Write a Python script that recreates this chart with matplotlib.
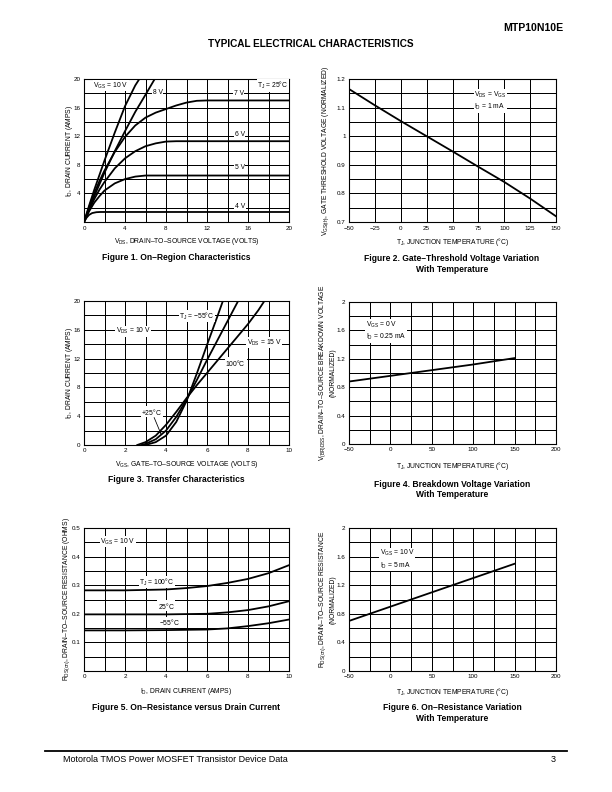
import matplotlib
matplotlib.use("Agg")
import matplotlib.pyplot as plt

plt.rcParams['font.family'] = ['Liberation Sans', 'DejaVu Sans']
plt.rcParams['mathtext.fontset'] = 'custom'
plt.rcParams['mathtext.rm'] = 'Liberation Sans'
plt.rcParams['mathtext.it'] = 'Liberation Sans'
plt.rcParams['mathtext.bf'] = 'Liberation Sans:bold'

# ---- Figure 1: on-region characteristics (VDS, ID) per VGS ----
f1_vgs_labels = ['10 V', '8 V', '7 V', '6 V', '5 V', '4 V']
f1_vds = [
    [0, 0.5, 1, 2, 3, 4, 5, 5.4],
    [0, 0.5, 1, 2, 3, 4, 5, 6, 6.9],
    [0, 0.5, 1, 1.5, 2, 3, 4, 5, 6, 7, 8, 9, 10, 11, 12, 20],
    [0, 0.5, 1, 1.5, 2, 3, 4, 5, 6, 7, 8, 9, 20],
    [0, 0.5, 1, 1.5, 2, 3, 4, 5, 6, 7, 20],
    [0, 0.25, 0.5, 0.8, 1.2, 1.6, 20],
]
f1_id = [
    [0, 2.3, 4.5, 8.6, 12.5, 16.2, 19.1, 20],
    [0, 1.8, 3.6, 6.9, 9.9, 12.7, 15.4, 17.8, 20],
    [0, 2.1, 4.0, 5.7, 7.2, 9.8, 11.9, 13.5, 14.6, 15.3, 15.8, 16.3, 16.7, 16.95, 17.0, 17.0],
    [0, 1.7, 3.2, 4.5, 5.6, 7.5, 8.9, 9.9, 10.6, 11.0, 11.25, 11.3, 11.3],
    [0, 1.5, 2.7, 3.6, 4.4, 5.4, 6.0, 6.35, 6.5, 6.5, 6.5],
    [0, 0.6, 1.0, 1.25, 1.37, 1.4, 1.4],
]

# ---- Figure 2: gate threshold voltage vs temperature ----
f2_temp = [-50, -25, 0, 25, 50, 75, 100, 125, 150]
f2_vth = [1.165, 1.108, 1.053, 1.0, 0.947, 0.893, 0.84, 0.782, 0.72]

# ---- Figure 3: transfer characteristics (VGS, ID) per TJ ----
f3_vgs_100 = [2.6, 3.0, 3.5, 4.0, 4.5, 5.0, 5.5, 6.0, 6.5, 7.0, 7.5, 8.0, 8.5, 8.8]
f3_id_100 = [0, 0.4, 1.3, 2.8, 4.6, 6.5, 8.3, 10.0, 11.7, 13.4, 15.1, 16.8, 18.7, 20]
f3_vgs_25 = [2.8, 3.0, 3.5, 4.0, 4.5, 5.0, 5.5, 6.0, 6.5, 7.0, 7.5]
f3_id_25 = [0, 0.15, 0.8, 2.0, 3.9, 6.3, 9.0, 11.8, 14.5, 17.2, 19.9]
f3_vgs_m55 = [3.0, 3.5, 4.0, 4.5, 5.0, 5.5, 6.0, 6.5, 6.8]
f3_id_m55 = [0, 0.4, 1.3, 3.2, 6.1, 9.9, 13.9, 17.8, 20.2]

# ---- Figure 4: breakdown voltage vs temperature ----
f4_temp = [-50, 0, 50, 100, 150]
f4_vbr = [0.88, 0.96, 1.04, 1.12, 1.21]

# ---- Figure 5: on-resistance vs drain current ----
f5_id = [0, 2, 4, 5, 6, 7, 8, 9, 10]
f5_r100 = [0.282, 0.282, 0.285, 0.29, 0.297, 0.308, 0.322, 0.342, 0.37]
f5_r25 = [0.198, 0.198, 0.198, 0.199, 0.2, 0.205, 0.213, 0.226, 0.244]
f5_rm55 = [0.142, 0.142, 0.143, 0.144, 0.145, 0.149, 0.157, 0.167, 0.18]

# ---- Figure 6: on-resistance vs temperature ----
f6_temp = [-50, -25, 0, 25, 50, 75, 100, 125, 150]
f6_rds = [0.70, 0.80, 0.90, 1.0, 1.1, 1.2, 1.3, 1.4, 1.5]

W, H = 612, 792
fig = plt.figure(figsize=(W / 72, H / 72), dpi=72)

GRID_LW = 1.0
CURVE_LW = 1.8
TICK_FS = 6.2
LABEL_FS = 6.8
NOTE_FS = 6.8
CAP_FS = 8.5
BOX = dict(facecolor='white', edgecolor='none', pad=0.6)


def make_axes(left, top, right, bottom):
    ax = fig.add_axes([left / W, 1 - bottom / H, (right - left) / W, (bottom - top) / H])
    for s in ax.spines.values():
        s.set_linewidth(1.1)
        s.set_color('black')
    ax.tick_params(length=0, pad=3.5, labelsize=TICK_FS)
    ax.grid(True, color='black', linewidth=GRID_LW)
    ax.set_axisbelow(True)
    return ax


def set_ticks(ax, xgrid, xlab, ygrid, ylab):
    ax.set_xticks(xgrid, labels=[xlab.get(v, '') for v in xgrid])
    ax.set_yticks(ygrid, labels=[ylab.get(v, '') for v in ygrid])
    ax.set_xlim(xgrid[0], xgrid[-1])
    ax.set_ylim(ygrid[0], ygrid[-1])


def note(ax, x, y, s, **kw):
    ax.text(x, y, s, fontsize=NOTE_FS, bbox=BOX, zorder=5, **kw)


# Figure 1
ax1 = make_axes(84, 79, 289, 222)
set_ticks(ax1, list(range(0, 21, 2)), {v: str(v) for v in range(0, 21, 4)},
          list(range(0, 21, 2)), {v: str(v) for v in range(4, 21, 4)})
for xs, ys in zip(f1_vds, f1_id):
    ax1.plot(xs, ys, color='black', lw=CURVE_LW, solid_capstyle='butt', zorder=3)
note(ax1, 0.9, 19.1, r'V$_{\mathregular{GS}}$ = 10 V', va='center')
note(ax1, 6.7, 18.1, '8 V', va='center')
note(ax1, 14.6, 18.0, '7 V', va='center')
note(ax1, 14.7, 12.2, '6 V', va='center')
note(ax1, 14.7, 7.6, '5 V', va='center')
note(ax1, 14.7, 2.1, '4 V', va='center')
note(ax1, 16.9, 19.1, r'T$_{\mathregular{J}}$ = 25$\degree$C', va='center')
ax1.set_xlabel(r'V$_{\mathregular{DS}}$, DRAIN–TO–SOURCE VOLTAGE (VOLTS)', fontsize=LABEL_FS)
ax1.set_ylabel(r'I$_{\mathregular{D}}$, DRAIN CURRENT (AMPS)', fontsize=LABEL_FS)
ax1.xaxis.set_label_coords(0.5, -0.1)
ax1.yaxis.set_label_coords(-0.044, 0.5)

# Figure 2
ax2 = make_axes(349, 79, 556, 222)
yg2 = [round(0.7 + 0.05 * i, 2) for i in range(11)]
set_ticks(ax2, list(range(-50, 151, 25)), {v: str(v).replace('-', '−') for v in range(-50, 151, 25)},
          yg2, {0.7: '0.7', 0.8: '0.8', 0.9: '0.9', 1.0: '1', 1.1: '1.1', 1.2: '1.2'})
ax2.plot(f2_temp, f2_vth, color='black', lw=CURVE_LW, zorder=3)
note(ax2, 71, 1.124, r'V$_{\mathregular{DS}}$ = V$_{\mathregular{GS}}$' + '\n' + r'I$_{\mathregular{D}}$ = 1 mA',
     va='center', linespacing=1.3)
ax2.set_xlabel(r'T$_{\mathregular{J}}$, JUNCTION TEMPERATURE ($\degree$C)', fontsize=LABEL_FS)
ax2.set_ylabel(r'V$_{\mathregular{GS(th)}}$, GATE THRESHOLD VOLTAGE (NORMALIZED)', fontsize=LABEL_FS)
ax2.xaxis.set_label_coords(0.5, -0.1)
ax2.yaxis.set_label_coords(-0.086, 0.5)

# Figure 3
ax3 = make_axes(84, 301, 289, 445)
set_ticks(ax3, list(range(0, 11)), {v: str(v) for v in range(0, 11, 2)},
          list(range(0, 21, 2)), {v: str(v) for v in range(0, 21, 4)})
for xs, ys in [(f3_vgs_100, f3_id_100), (f3_vgs_25, f3_id_25), (f3_vgs_m55, f3_id_m55)]:
    ax3.plot(xs, ys, color='black', lw=CURVE_LW, zorder=3)
note(ax3, 4.65, 17.9, r'T$_{\mathregular{J}}$ = −55$\degree$C', va='center')
note(ax3, 1.55, 15.8, r'V$_{\mathregular{DS}}$ = 10 V', va='center')
note(ax3, 7.95, 14.2, r'V$_{\mathregular{DS}}$ = 15 V', va='center')
note(ax3, 6.9, 11.4, r'100$\degree$C', va='center')
ax3.annotate(r'+25$\degree$C', xy=(3.76, 1.5), xytext=(2.8, 4.6), fontsize=NOTE_FS, va='center',
             bbox=BOX, zorder=5,
             arrowprops=dict(arrowstyle='-|>', color='black', lw=0.8, mutation_scale=5,
                             shrinkA=0, shrinkB=0))
ax3.set_xlabel(r'V$_{\mathregular{GS}}$, GATE–TO–SOURCE VOLTAGE (VOLTS)', fontsize=LABEL_FS)
ax3.set_ylabel(r'I$_{\mathregular{D}}$, DRAIN CURRENT (AMPS)', fontsize=LABEL_FS)
ax3.xaxis.set_label_coords(0.5, -0.1)
ax3.yaxis.set_label_coords(-0.044, 0.5)

# Figure 4
ax4 = make_axes(349, 302, 556, 444)
yg4 = [round(0.2 * i, 1) for i in range(11)]
set_ticks(ax4, list(range(-50, 201, 25)), {v: str(v).replace('-', '−') for v in range(-50, 201, 50)},
          yg4, {0.0: '0', 0.4: '0.4', 0.8: '0.8', 1.2: '1.2', 1.6: '1.6', 2.0: '2'})
ax4.plot(f4_temp, f4_vbr, color='black', lw=CURVE_LW, zorder=3)
note(ax4, -30, 1.59, r'V$_{\mathregular{GS}}$ = 0 V' + '\n' + r'I$_{\mathregular{D}}$ = 0.25 mA',
     va='center', linespacing=1.3)
ax4.set_xlabel(r'T$_{\mathregular{J}}$, JUNCTION TEMPERATURE ($\degree$C)', fontsize=LABEL_FS)
ax4.set_ylabel(r'V$_{\mathregular{(BR)DSS}}$, DRAIN–TO–SOURCE BREAKDOWN VOLTAGE' + '\n(NORMALIZED)',
               fontsize=LABEL_FS, linespacing=1.3)
ax4.xaxis.set_label_coords(0.5, -0.115)
ax4.yaxis.set_label_coords(-0.058, 0.5)

# Figure 5
ax5 = make_axes(84, 528, 289, 671)
yg5 = [round(0.05 * i, 2) for i in range(11)]
set_ticks(ax5, list(range(0, 11)), {v: str(v) for v in range(0, 11, 2)},
          yg5, {0.1: '0.1', 0.2: '0.2', 0.3: '0.3', 0.4: '0.4', 0.5: '0.5'})
for ys in [f5_r100, f5_r25, f5_rm55]:
    ax5.plot(f5_id, ys, color='black', lw=CURVE_LW, zorder=3)
note(ax5, 0.8, 0.452, r'V$_{\mathregular{GS}}$ = 10 V', va='center')
note(ax5, 2.7, 0.311, r'T$_{\mathregular{J}}$ = 100$\degree$C', va='center')
note(ax5, 3.6, 0.228, r'25$\degree$C', va='center')
note(ax5, 3.65, 0.17, r'−55$\degree$C', va='center')
ax5.set_xlabel(r'I$_{\mathregular{D}}$, DRAIN CURRENT (AMPS)', fontsize=LABEL_FS)
ax5.set_ylabel(r'R$_{\mathregular{DS(on)}}$, DRAIN–TO–SOURCE RESISTANCE (OHMS)', fontsize=LABEL_FS)
ax5.xaxis.set_label_coords(0.5, -0.108)
ax5.yaxis.set_label_coords(-0.058, 0.5)

# Figure 6
ax6 = make_axes(349, 528, 556, 671)
set_ticks(ax6, list(range(-50, 201, 25)), {v: str(v).replace('-', '−') for v in range(-50, 201, 50)},
          yg4, {0.0: '0', 0.4: '0.4', 0.8: '0.8', 1.2: '1.2', 1.6: '1.6', 2.0: '2'})
ax6.plot(f6_temp, f6_rds, color='black', lw=CURVE_LW, zorder=3)
note(ax6, -13, 1.56, r'V$_{\mathregular{GS}}$ = 10 V' + '\n' + r'I$_{\mathregular{D}}$ = 5 mA',
     va='center', linespacing=1.3)
ax6.set_xlabel(r'T$_{\mathregular{J}}$, JUNCTION TEMPERATURE ($\degree$C)', fontsize=LABEL_FS)
ax6.set_ylabel(r'R$_{\mathregular{DS(on)}}$, DRAIN–TO–SOURCE RESISTANCE' + '\n(NORMALIZED)',
               fontsize=LABEL_FS, linespacing=1.3)
ax6.xaxis.set_label_coords(0.5, -0.108)
ax6.yaxis.set_label_coords(-0.058, 0.5)


# page texts
def ptext(x, y, s, **kw):
    fig.text(x / W, 1 - y / H, s, **kw)


ptext(563, 28, 'MTP10N10E', fontsize=10.5, fontweight='bold', ha='right', va='center')
ptext(311, 44, 'TYPICAL ELECTRICAL CHARACTERISTICS', fontsize=10, fontweight='bold', ha='center', va='center')
ptext(176, 258, 'Figure 1. On–Region Characteristics', fontsize=CAP_FS, fontweight='bold', ha='center', va='center')
ptext(452, 264, 'Figure 2. Gate–Threshold Voltage Variation\nWith Temperature', fontsize=CAP_FS,
      fontweight='bold', ha='center', va='center', linespacing=1.2)
ptext(176, 480, 'Figure 3. Transfer Characteristics', fontsize=CAP_FS, fontweight='bold', ha='center', va='center')
ptext(452, 489.5, 'Figure 4. Breakdown Voltage Variation\nWith Temperature', fontsize=CAP_FS,
      fontweight='bold', ha='center', va='center', linespacing=1.2)
ptext(186, 707, 'Figure 5. On–Resistance versus Drain Current', fontsize=CAP_FS, fontweight='bold',
      ha='center', va='center')
ptext(452, 713, 'Figure 6. On–Resistance Variation\nWith Temperature', fontsize=CAP_FS,
      fontweight='bold', ha='center', va='center', linespacing=1.2)

fig.add_artist(plt.Line2D([45 / W, 567 / W], [1 - 751 / H, 1 - 751 / H], color='black', lw=1.8))
ptext(63, 760, 'Motorola TMOS Power MOSFET Transistor Device Data', fontsize=9, va='center')
ptext(556, 760, '3', fontsize=9, ha='right', va='center')

fig.savefig('out.png', dpi=72)
